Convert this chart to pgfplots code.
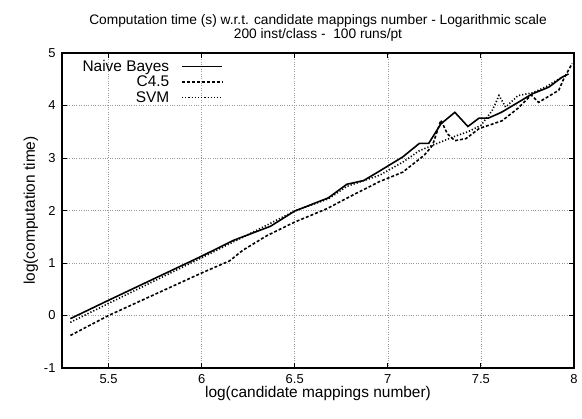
\documentclass[border=0pt]{standalone}
\usepackage{pgfplots}
\pgfplotsset{compat=1.18}
\usepackage{fontspec}
\setmainfont{Liberation Sans}

\pgfplotstableread{
x y
5.295 -0.06
5.50 0.29
6.00 1.13
6.17 1.43
6.37 1.70
6.50 1.99
6.68 2.24
6.78 2.50
6.87 2.57
6.955 2.75
7.08 3.02
7.17 3.28
7.22 3.28
7.285 3.65
7.36 3.87
7.43 3.60
7.49 3.76
7.54 3.76
7.61 3.87
7.70 4.06
7.775 4.22
7.865 4.35
7.936 4.54
7.97 4.60
}\nb

\pgfplotstableread{
x y
5.295 -0.38
5.50 0.00
6.00 0.81
6.15 1.04
6.22 1.24
6.35 1.52
6.50 1.78
6.67 2.03
6.81 2.29
6.955 2.55
7.08 2.73
7.195 3.05
7.24 3.24
7.285 3.72
7.32 3.46
7.36 3.33
7.42 3.37
7.49 3.56
7.614 3.71
7.70 3.95
7.77 4.20
7.81 4.06
7.918 4.29
7.945 4.51
7.99 4.80
}\cfour

\pgfplotstableread{
x y
5.295 -0.13
5.50 0.23
6.00 1.10
6.26 1.56
6.50 1.99
6.68 2.22
6.78 2.46
6.955 2.67
7.08 2.92
7.17 3.14
7.35 3.40
7.43 3.50
7.50 3.62
7.56 3.90
7.597 4.19
7.633 3.97
7.70 4.19
7.775 4.24
7.846 4.35
7.936 4.54
7.97 4.60
}\svm

\begin{document}
\begin{tikzpicture}
  \begin{axis}[
      scale only axis,
      width=512bp, height=315bp,
      xmin=5.25, xmax=8,
      ymin=-1, ymax=5,
      xtick={5.5,6,6.5,7,7.5,8},
      ytick={-1,0,1,2,3,4,5},
      /pgf/number format/assume math mode=true,
      tick label style={font=\fontsize{13}{15}\selectfont},
      label style={font=\fontsize{15.5}{17}\selectfont},
      xticklabel style={yshift=-3bp},
      yticklabel style={xshift=-3bp},
      tick align=inside,
      major tick length=5bp,
      axis line style={line width=1.3pt},
      every tick/.style={black, line width=1pt},
      grid=major,
      major grid style={gray!80, dotted, line width=0.6pt},
      title={Computation time (s) w.r.t. candidate mappings number - Logarithmic scale\\200 inst/class -\ \ 100 runs/pt},
      title style={font=\fontsize{13.8}{14}\selectfont, align=center, yshift=2bp},
      xlabel={log(candidate mappings number)},
      ylabel={log(computation time)},
      xlabel style={yshift=4bp},
      ylabel style={yshift=-1bp},
      legend style={draw=none, fill=none, at={(0.03,0.99)}, anchor=north west,
                    font=\fontsize{15.5}{16}\selectfont, row sep=-1bp},
      legend plot pos=right,
      legend cell align=right,
      legend image code/.code={
        \path (0bp,0bp) (50bp,0bp);
        \draw[#1] (10bp,0bp) -- (50bp,0bp);
      },
    ]
    \addplot[black, line width=1.6pt] table[x=x, y=y] {\nb};
    \addplot[black, line width=1.6pt, dash pattern=on 3pt off 2pt] table[x=x, y=y] {\cfour};
    \addplot[black, line width=1.6pt, dash pattern=on 1.2pt off 2pt] table[x=x, y=y] {\svm};
    \legend{Naive Bayes, C4.5, SVM}
  \end{axis}
  \pgfresetboundingbox
  \path (current axis.south west) ++(-62bp,-51bp) coordinate (bbA);
  \path (current axis.north east) ++(8bp,53bp) coordinate (bbB);
  \useasboundingbox (bbA) rectangle (bbB);
\end{tikzpicture}
\end{document}
